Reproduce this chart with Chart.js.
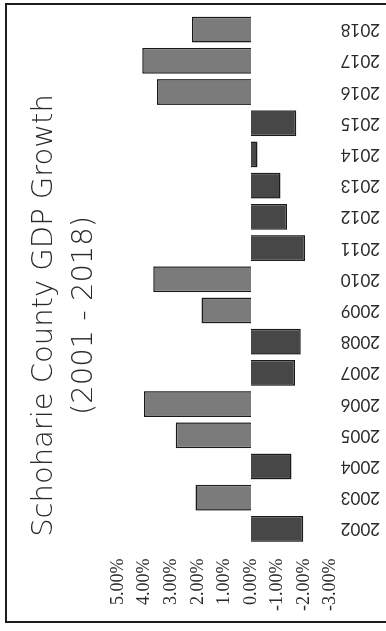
<!DOCTYPE html>
<html>
<head>
<meta charset="utf-8">
<title>Schoharie County GDP Growth</title>
<script src="https://cdn.jsdelivr.net/npm/chart.js@4.4.0/dist/chart.umd.min.js"></script>
<style>
  html, body { margin: 0; padding: 0; background: #fff; width: 386px; height: 631px; overflow: hidden; }
  /* chart is laid out landscape, then turned a quarter turn counter-clockwise */
  #wrap {
    position: absolute; left: 0; top: 0; width: 631px; height: 386px;
    transform-origin: 0 0; transform: translate(0, 631px) rotate(-90deg);
  }
  #frame {
    position: absolute; left: 5px; top: 3px; width: 400px; height: 616px;
    border: 2px solid #1e1e1e; border-right: none; pointer-events: none;
  }
</style>
</head>
<body>
<div id="wrap"><canvas id="gdp-chart" width="631" height="386"></canvas></div>
<div id="frame"></div>
<script>
// Annual real GDP growth, percent
const years = ['2002', '2003', '2004', '2005', '2006', '2007', '2008', '2009', '2010',
               '2011', '2012', '2013', '2014', '2015', '2016', '2017', '2018'];
const growth = [-1.97, 2.09, -1.53, 2.83, 4.03, -1.66, -1.88, 1.86, 3.68,
                -2.04, -1.36, -1.11, -0.25, -1.71, 3.54, 4.09, 2.22];
const axisMin = -3;
const axisMax = 5;
const titleLines = ['Schoharie County GDP Growth', '(2001 - 2018)'];

document.addEventListener('DOMContentLoaded', function() {
    const ctx = document.getElementById('gdp-chart');
    try {
        new Chart(ctx, {
            type: 'bar',
            data: {
                labels: years,
                datasets: [{
                    data: growth,
                    backgroundColor: function(context) {
                        return context.raw >= 0 ? '#7b7b7b' : '#474747';
                    },
                    borderColor: '#1a1a1a',
                    borderWidth: 1.5,
                    barPercentage: 0.9,
                    categoryPercentage: 0.92
                }]
            },
            options: {
                responsive: false,
                animation: false,
                layout: {
                    padding: { top: 14, left: 14, right: 14, bottom: 4 }
                },
                plugins: {
                    legend: { display: false },
                    tooltip: { enabled: false },
                    title: {
                        display: true,
                        text: titleLines,
                        color: '#2a2a2a',
                        font: { family: 'DejaVu Sans', size: 29, weight: '200', lineHeight: 1.4 },
                        padding: { top: 10, bottom: 13 }
                    }
                },
                scales: {
                    x: {
                        grid: { display: false },
                        border: { display: false },
                        ticks: {
                            minRotation: 90,
                            maxRotation: 90,
                            padding: 2,
                            color: '#2a2a2a',
                            font: { family: 'Lato', size: 17 }
                        }
                    },
                    y: {
                        min: axisMin,
                        max: axisMax,
                        grid: { display: false },
                        border: { display: false },
                        ticks: {
                            stepSize: 1,
                            padding: 6,
                            color: '#2a2a2a',
                            font: { family: 'Liberation Serif', size: 18 },
                            callback: function(value) {
                                return value.toFixed(2) + '%';
                            }
                        }
                    }
                }
            }
        });
    } catch (error) {
        console.error('Error creating GDP chart:', error);
    }
});
</script>
</body>
</html>
